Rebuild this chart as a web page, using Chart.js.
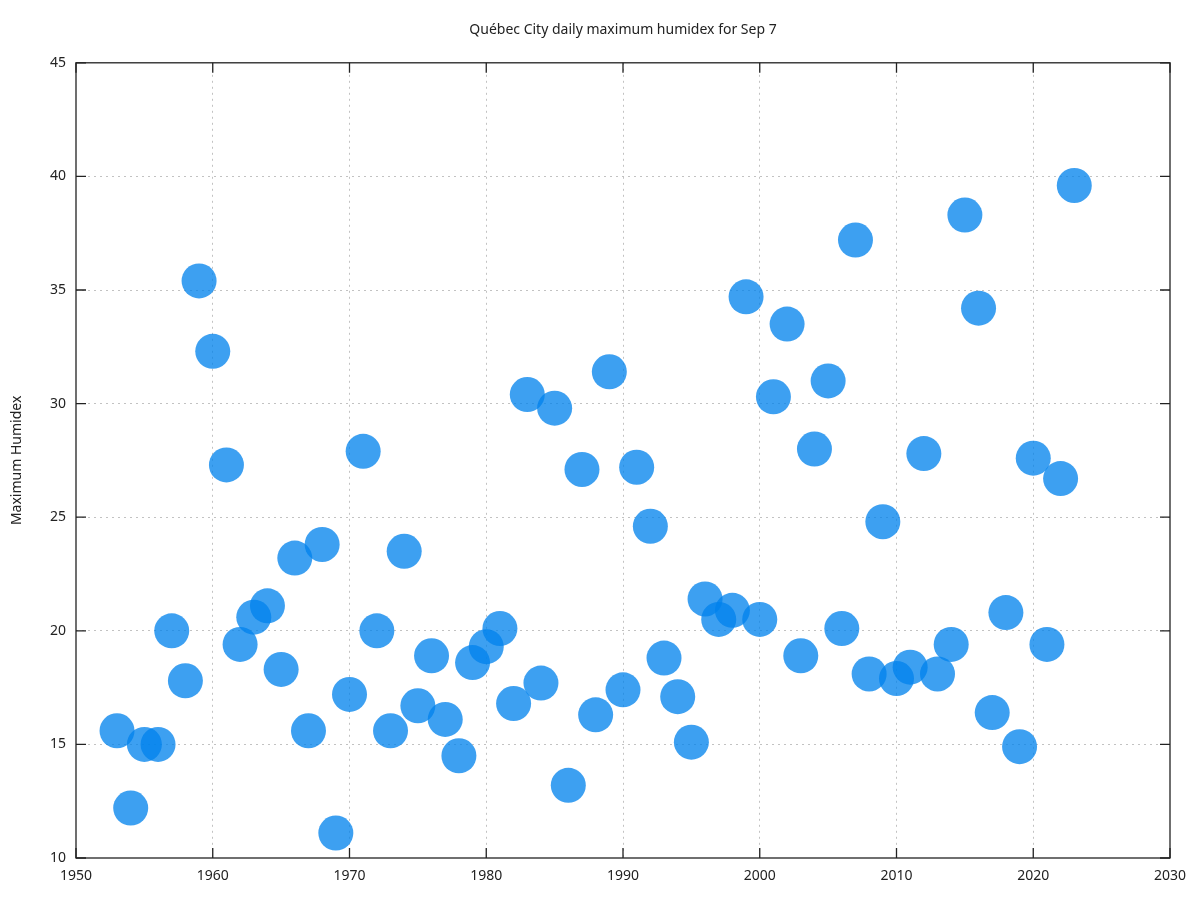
<!DOCTYPE html>
<html>
<head>
<meta charset="utf-8">
<script src="https://cdn.jsdelivr.net/npm/chart.js@4/dist/chart.umd.min.js"></script>
<style>
  body { margin: 0; background: #fff; }
</style>
</head>
<body>
<canvas id="humidexChart" width="1200" height="900"></canvas>
<script>
// years and maximum humidex values
const years = [1953, 1954, 1955, 1956, 1957, 1958, 1959, 1960, 1961, 1962,
  1963, 1964, 1965, 1966, 1967, 1968, 1969, 1970, 1971, 1972,
  1973, 1974, 1975, 1976, 1977, 1978, 1979, 1980, 1981, 1982,
  1983, 1984, 1985, 1986, 1987, 1988, 1989, 1990, 1991, 1992,
  1993, 1994, 1995, 1996, 1997, 1998, 1999, 2000, 2001, 2002,
  2003, 2004, 2005, 2006, 2007, 2008, 2009, 2010, 2011, 2012,
  2013, 2014, 2015, 2016, 2017, 2018, 2019, 2020, 2021, 2022, 2023];
const humidex = [15.6, 12.2, 15.0, 15.0, 20.0, 17.8, 35.4, 32.3, 27.3, 19.4,
  20.6, 21.1, 18.3, 23.2, 15.6, 23.8, 11.1, 17.2, 27.9, 20.0,
  15.6, 23.5, 16.7, 18.9, 16.1, 14.5, 18.6, 19.3, 20.1, 16.8,
  30.4, 17.7, 29.8, 13.2, 27.1, 16.3, 31.4, 17.4, 27.2, 24.6,
  18.8, 17.1, 15.1, 21.4, 20.5, 20.9, 34.7, 20.5, 30.3, 33.5,
  18.9, 28.0, 31.0, 20.1, 37.2, 18.1, 24.8, 17.9, 18.4, 27.8,
  18.1, 19.4, 38.3, 34.2, 16.4, 20.8, 14.9, 27.6, 19.4, 26.7, 39.6];
const xTicks = [1950, 1960, 1970, 1980, 1990, 2000, 2010, 2020, 2030];
const yTicks = [10, 15, 20, 25, 30, 35, 40, 45];

const points = years.map((y, i) => ({ x: y, y: humidex[i] }));

Chart.defaults.font.family = "'Noto Sans', 'Open Sans', sans-serif";
Chart.defaults.color = '#222';

// gnuplot-like frame with inward ticks on all four sides
const framePlugin = {
  id: 'frame',
  afterDatasetsDraw(chart) {
    const ctx = chart.ctx;
    const a = chart.chartArea;
    const xs = chart.scales.x, ys = chart.scales.y;
    ctx.save();
    ctx.strokeStyle = '#222';
    ctx.lineWidth = 1.3;
    ctx.strokeRect(a.left, a.top, a.right - a.left, a.bottom - a.top);
    ctx.beginPath();
    xTicks.forEach(v => {
      const px = xs.getPixelForValue(v);
      ctx.moveTo(px, a.bottom); ctx.lineTo(px, a.bottom - 10);
      ctx.moveTo(px, a.top); ctx.lineTo(px, a.top + 10);
    });
    yTicks.forEach(v => {
      const py = ys.getPixelForValue(v);
      ctx.moveTo(a.left, py); ctx.lineTo(a.left + 10, py);
      ctx.moveTo(a.right, py); ctx.lineTo(a.right - 10, py);
    });
    ctx.stroke();
    ctx.restore();
  }
};

const gridColor = function (c) {
  const s = c.scale;
  if (c.tick && (c.tick.value === s.min || c.tick.value === s.max)) return 'rgba(0,0,0,0)';
  return '#c2c2c2';
};

new Chart(document.getElementById('humidexChart').getContext('2d'), {
  type: 'scatter',
  data: {
    datasets: [{
      label: 'Maximum Humidex',
      data: points,
      backgroundColor: 'rgba(0,130,236,0.76)',
      borderWidth: 0,
      pointRadius: 17.5,
      pointHoverRadius: 17.5
    }]
  },
  options: {
    responsive: false,
    animation: false,
    layout: { padding: { left: 0, right: 30, top: 0, bottom: 0 } },
    plugins: {
      legend: { display: false },
      tooltip: { enabled: false },
      title: {
        display: true,
        text: 'Québec City daily maximum humidex for Sep 7',
        fullSize: false,
        font: { size: 14, weight: 'normal' },
        color: '#222',
        padding: { top: 22, bottom: 24 }
      }
    },
    scales: {
      x: {
        type: 'linear',
        min: 1950,
        max: 2030,
        afterFit(scale) { scale.height = 42; },
        afterBuildTicks(scale) { scale.ticks = xTicks.map(v => ({ value: v })); },
        ticks: {
          padding: 10,
          font: { size: 14 },
          color: '#222',
          callback: v => String(v)
        },
        grid: {
          drawTicks: false,
          color: gridColor,
          lineWidth: 1
        },
        border: { display: false, dash: [2, 4] }
      },
      y: {
        min: 10,
        max: 45,
        afterFit(scale) { scale.width = 76; },
        afterBuildTicks(scale) { scale.ticks = yTicks.map(v => ({ value: v })); },
        ticks: {
          padding: 10,
          font: { size: 14 },
          color: '#222'
        },
        title: {
          display: true,
          text: 'Maximum Humidex',
          font: { size: 14 },
          color: '#222',
          padding: { top: 9, bottom: 0 }
        },
        grid: {
          drawTicks: false,
          color: gridColor,
          lineWidth: 1
        },
        border: { display: false, dash: [2, 4] }
      }
    }
  },
  plugins: [framePlugin]
});
</script>
</body>
</html>
